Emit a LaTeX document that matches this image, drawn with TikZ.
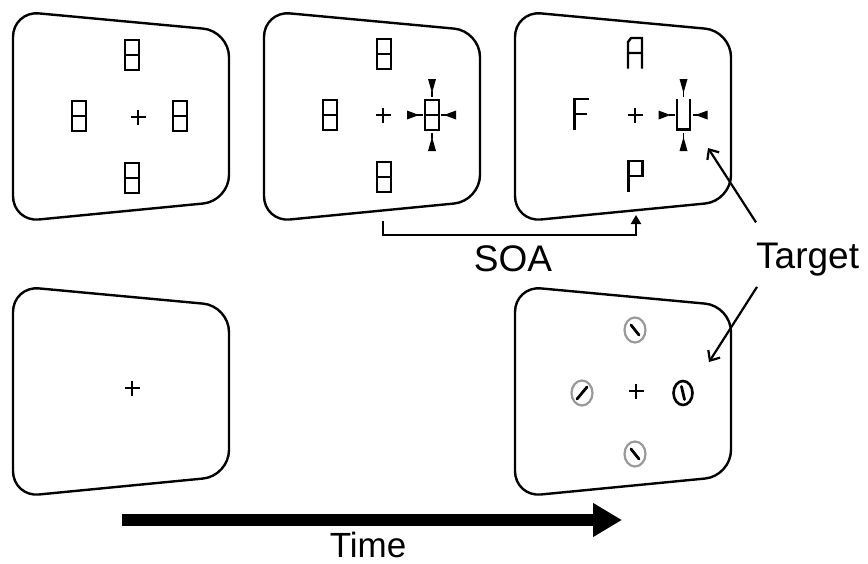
\documentclass[tikz,border=0pt]{standalone}
\usepackage{fontspec}
\setmainfont{Liberation Sans}
\usetikzlibrary{arrows.meta,calc}
\newcommand\Scr[2]{\begin{scope}[shift={(#1,#2)}]\draw[screen] (13,11) -- (229,31) -- (229,201) -- (13,222) -- cycle;\end{scope}}
\newcommand\Fix[2]{\begin{scope}[shift={(#1,#2)}]\draw[fixs] (-7.5,0) -- (7.5,0) (0,-7.5) -- (0,7.5);\end{scope}}
\newcommand\Bg[2]{\begin{scope}[shift={(#1,#2)}]\draw[glyph] (-7,-15) rectangle (7,15) (-7,0) -- (7,0);\end{scope}}
\newcommand\Cues[2]{\begin{scope}[shift={(#1,#2)}]
 \fill (-4,-36) -- (4,-36) -- (0,-22) -- cycle; \draw[line width=1.5pt] (0,-24) -- (0,-18);
 \fill (-4,36) -- (4,36) -- (0,22) -- cycle; \draw[line width=1.5pt] (0,24) -- (0,18);
 \fill (-25,-4.5) -- (-25,4.5) -- (-13,0) -- cycle; \draw[line width=1.5pt] (-15,0) -- (-9,0);
 \fill (24,-4.5) -- (24,4.5) -- (12,0) -- cycle; \draw[line width=1.5pt] (14,0) -- (9,0);
\end{scope}}
\begin{document}
\begin{tikzpicture}[x=1pt,y=-1pt,
 screen/.style={draw=black,line width=2.4pt,rounded corners=26pt},
 glyph/.style={draw=black,line width=2.4pt},
 fixs/.style={draw=black,line width=2.8pt},
 conn/.style={draw=black,line width=2.2pt},
 lbl/.style={inner sep=0pt,font=\fontsize{37}{40}\selectfont},
 gab/.style={draw=black!40,line width=2.2pt},
 bar/.style={draw=black,line width=2.8pt,line cap=round}]
\useasboundingbox (0,0) rectangle (868,563);
% screens
\Scr{0}{0}
\Scr{251}{0}
\Scr{502}{0}
\Scr{0}{275}
\Scr{502}{275}
% screen 1
\Bg{132}{55}\Bg{79}{116}\Bg{180}{116}\Bg{132}{178}
\Fix{138}{117}
% screen 2
\Bg{384}{54}\Bg{330}{115}\Bg{432}{115}\Bg{384}{177}
\Fix{383}{115}
\Cues{432}{115}
% screen 3
\begin{scope}[shift={(635,53)}]
 \draw[glyph] (-7,15.5) -- (-7,-11) -- (-4,-15) -- (7,-15) -- (7,15.5) (-7,0) -- (7,0);
\end{scope}
\begin{scope}[shift={(581.5,114)}]
 \draw[glyph] (7,-15) -- (-7,-15) -- (-7,15.5) (-7,0) -- (5,0);
\end{scope}
\begin{scope}[shift={(683.5,114.5)}]
 \draw[glyph] (-6.5,-15.5) -- (-6.5,15) -- (6.5,15) -- (6.5,-15.5);
\end{scope}
\begin{scope}[shift={(635.5,176)}]
 \draw[glyph] (-7,16) -- (-7,-15) -- (7,-15) -- (7,0) -- (-7,0);
\end{scope}
\Fix{635}{115}
\Cues{683.5}{115}
% screen 4
\Fix{132}{388}
% screen 5
\Fix{636}{391}
\begin{scope}[shift={(635,330)}]
 \draw[gab] (0,0) ellipse [x radius=10.5,y radius=12.5];
 \draw[bar] (-4,-5) -- (4,5);
\end{scope}
\begin{scope}[shift={(582,393)}]
 \draw[gab] (0,0) ellipse [x radius=10.5,y radius=12.5];
 \draw[bar] (-5,6) -- (5,-6);
\end{scope}
\begin{scope}[shift={(635,454)}]
 \draw[gab] (0,0) ellipse [x radius=10.5,y radius=12.5];
 \draw[bar] (-4,-5) -- (4,5);
\end{scope}
\begin{scope}[shift={(683,393)}]
 \draw[black,line width=2.6pt] (0,0) ellipse [x radius=9.5,y radius=12];
 \draw[bar] (-1.5,-6.5) -- (1.5,6.5);
\end{scope}
% SOA
\coordinate (soaL) at (383,221);
\coordinate (soaR) at (636,215);
\draw[conn,-{Triangle[length=9pt,width=10pt]}] (soaL) -- ++(0,14) -| (soaR);
\node[lbl,anchor=base] (soa) at (513,271) {SOA};
% Target
\node[lbl,anchor=base west] (tgt) at (756,268) {Target};
\coordinate (tu) at (708,148);
\coordinate (td) at (709,362);
\draw[conn,-{Straight Barb[length=8pt,width=14pt]}] ([xshift=0pt,yshift=20pt]tgt.north west) -- (tu);
\draw[conn,-{Straight Barb[length=8pt,width=14pt]}] ([xshift=1pt,yshift=-11pt]tgt.south west) -- (td);
% Time
\coordinate (t0) at (122,520);
\coordinate (t1) at (622,520);
\draw[line width=12pt,-{Triangle[length=29pt,width=32pt]}] (t0) -- (t1);
\node[lbl,anchor=base,font=\fontsize{35}{38}\selectfont] (time) at (368,557) {Time};
\end{tikzpicture}
\end{document}
